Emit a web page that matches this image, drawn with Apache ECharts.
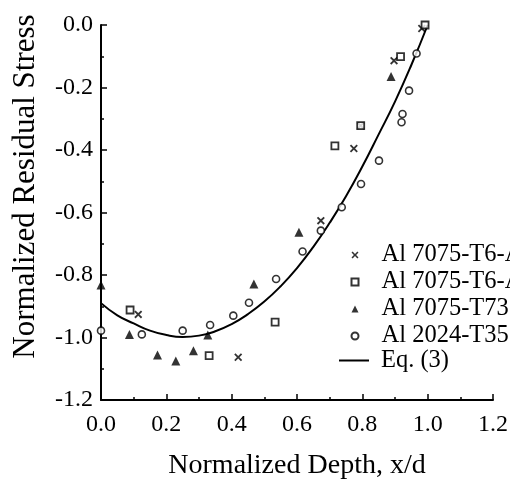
<!DOCTYPE html>
<html>
<head>
	<meta charset="UTF-8">
	<title>Normalized Residual Stress</title>
	<script src="https://cdn.jsdelivr.net/npm/echarts@6/dist/echarts.min.js"></script>
	<style>
		body { margin: 0; background: #fff; }
		#main { width: 510px; height: 479px; }
	</style>
</head>
<body>
	<div id="main"></div>
	<script type="text/javascript">
		// 数据
		var xTicks = [0.0, 0.2, 0.4, 0.6, 0.8, 1.0, 1.2];
		var yTicks = [0.0, -0.2, -0.4, -0.6, -0.8, -1.0, -1.2];

		var t6a = [[0.114, -0.926], [0.42, -1.063], [0.673, -0.626], [0.774, -0.395], [0.795, -0.322], [0.897, -0.114], [0.982, -0.011]];
		var t6b = [[0.089, -0.912], [0.331, -1.058], [0.533, -0.951], [0.716, -0.387], [0.795, -0.322], [0.917, -0.101], [0.992, 0.0]];
		var t7351 = [[0.0, -0.832], [0.087, -0.99], [0.173, -1.056], [0.229, -1.075], [0.283, -1.042], [0.327, -0.992], [0.468, -0.829], [0.606, -0.663], [0.888, -0.165]];
		var t351 = [[0.0, -0.978], [0.125, -0.99], [0.25, -0.978], [0.334, -0.96], [0.405, -0.93], [0.453, -0.889], [0.536, -0.813], [0.617, -0.725], [0.673, -0.658], [0.737, -0.583], [0.796, -0.509], [0.851, -0.434], [0.92, -0.311], [0.923, -0.285], [0.943, -0.21], [0.966, -0.091]];

		// Eq. (3) curve, read every 0.05
		var eqX = [0.0, 0.05, 0.1, 0.15, 0.2, 0.25, 0.3, 0.35, 0.4, 0.45, 0.5, 0.55, 0.6, 0.65, 0.7, 0.75, 0.8, 0.85, 0.9, 0.95, 1.0];
		var eqY = [-0.890, -0.929, -0.955, -0.978, -0.992, -0.998, -0.994, -0.980, -0.957, -0.925, -0.885, -0.836, -0.778, -0.710, -0.633, -0.548, -0.453, -0.350, -0.245, -0.128, 0.0];

		var names = ['Al 7075-T6-A1', 'Al 7075-T6-A2', 'Al 7075-T7351', 'Al 2024-T351', 'Eq. (3)'];

		var eqData = [];
		for (var i = 0; i < eqX.length; i++) {
			eqData.push([eqX[i], eqY[i]]);
		}

		// bold x marker
		var crossPath = 'path://M0,1.6L1.6,0L5,3.4L8.4,0L10,1.6L6.6,5L10,8.4L8.4,10L5,6.6L1.6,10L0,8.4L3.4,5Z';
		var serif = 'Liberation Serif';
		var legendText = {
			fontFamily: serif,
			fontSize: 24.5,
			color: '#000'
		};

		var chart = echarts.init(document.getElementById('main'));
		var option = {
			animation: false,
			backgroundColor: '#fff',
			grid: {
				left: 101,
				top: 25,
				right: 17,
				bottom: 79,
				outerBoundsMode: 'none'
			},
			legend: [
				{
					// markers
					orient: 'vertical',
					left: 350.5,
					top: 242.5,
					padding: 0,
					itemWidth: 7,
					itemHeight: 7,
					itemGap: 2,
					data: names.slice(0, 4),
					textStyle: Object.assign({ padding: [0, 0, 0, 18] }, legendText)
				},
				{
					// the equation line
					left: 339,
					top: 348,
					padding: 0,
					itemWidth: 30,
					itemHeight: 2,
					data: [{ name: names[4], icon: 'rect' }],
					textStyle: Object.assign({ padding: [0, 0, 0, 7] }, legendText)
				}
			],
			xAxis: {
				type: 'value',
				min: 0,
				max: 1.2,
				interval: 0.2,
				name: 'Normalized Depth, x/d',
				nameLocation: 'middle',
				nameGap: 52,
				nameTextStyle: { fontFamily: serif, fontSize: 28, color: '#000' },
				axisLine: { onZero: false, lineStyle: { color: '#000', width: 2 } },
				axisTick: { inside: true, length: 6, lineStyle: { color: '#000', width: 1.5 } },
				minorTick: { show: true, splitNumber: 2, length: 3, lineStyle: { color: '#000', width: 1.5 } },
				splitLine: { show: false },
				axisLabel: {
					margin: 13,
					fontFamily: serif,
					fontSize: 24,
					color: '#000',
					formatter: function (v) { return v.toFixed(1); }
				}
			},
			yAxis: {
				type: 'value',
				min: -1.2,
				max: 0,
				interval: 0.2,
				name: 'Normalized Residual Stress',
				nameLocation: 'middle',
				nameGap: 60,
				nameTextStyle: { fontFamily: serif, fontSize: 31, color: '#000', padding: [0, 0, 0, 52] },
				axisLine: { onZero: false, lineStyle: { color: '#000', width: 2 } },
				axisTick: { inside: true, length: 6, lineStyle: { color: '#000', width: 1.5 } },
				minorTick: { show: true, splitNumber: 2, length: 3, lineStyle: { color: '#000', width: 1.5 } },
				splitLine: { show: false },
				axisLabel: {
					margin: 8,
					fontFamily: serif,
					fontSize: 24,
					color: '#000',
					padding: [6, 0, 0, 0],
					formatter: function (v) { return v.toFixed(1); }
				}
			},
			series: [
				{
					name: names[0],
					type: 'scatter',
					clip: false,
					symbol: crossPath,
					symbolSize: 8,
					itemStyle: { color: '#000' },
					data: t6a
				},
				{
					name: names[1],
					type: 'scatter',
					clip: false,
					symbol: 'rect',
					symbolSize: 7,
					itemStyle: { color: '#fff', borderColor: '#000', borderWidth: 1.8 },
					data: t6b
				},
				{
					name: names[2],
					type: 'scatter',
					clip: false,
					symbol: 'triangle',
					symbolSize: 9,
					itemStyle: { color: '#000' },
					data: t7351
				},
				{
					name: names[3],
					type: 'scatter',
					clip: false,
					symbol: 'circle',
					symbolSize: 7,
					itemStyle: { color: '#fff', borderColor: '#000', borderWidth: 1.6 },
					data: t351
				},
				{
					name: names[4],
					type: 'line',
					smooth: true,
					showSymbol: false,
					symbol: 'none',
					lineStyle: { color: '#000', width: 2 },
					itemStyle: { color: '#000' },
					z: 1,
					data: eqData
				}
			]
		};
		chart.setOption(option);
	</script>
</body>
</html>
